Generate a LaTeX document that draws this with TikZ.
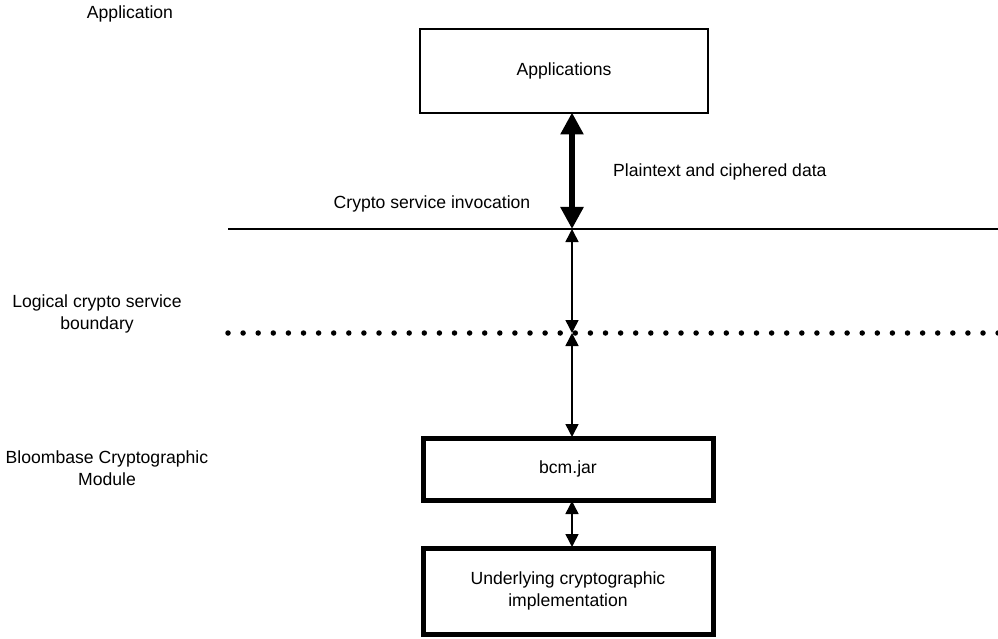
\documentclass[tikz,border=0pt]{standalone}
\usepackage{fontspec}
\setmainfont{Liberation Sans}
\usetikzlibrary{arrows.meta}
\begin{document}
\begin{tikzpicture}[x=1pt,y=-1pt,
  lbl/.style={font=\fontsize{17.6}{22}\selectfont, inner sep=0pt, align=center},
  thinbox/.style={draw, line width=1.5pt, inner sep=0pt},
  thickbox/.style={draw, line width=5pt, inner sep=0pt},
  bigarrow/.style={line width=6.5pt, {Triangle[width=22pt,length=22pt]}-{Triangle[width=22pt,length=22pt]}},
  smallarrow/.style={line width=1.5pt, {Triangle[width=13pt,length=13pt]}-{Triangle[width=13pt,length=13pt]}},
  solidline/.style={line width=1.5pt},
  dotline/.style={line width=5.5pt, line cap=round, dash pattern=on 0pt off 15.1pt}
]
\useasboundingbox (0,0) rectangle (998,639);

% boxes
\node[thinbox, minimum width=288pt, minimum height=84pt] (app) at (564,71) {};
\node[lbl] (apptxt) at (app.center) {Applications};
\node[thickbox, minimum width=290pt, minimum height=62pt] (bcm) at (568,469) {};
\node[lbl] (bcmtxt) at (bcm.center) {bcm.jar};
\node[thickbox, minimum width=290pt, minimum height=86pt] (impl) at (568,591) {};
\node[lbl] (impltxt) at (impl.center) {Underlying cryptographic\\[0pt]implementation};

% horizontal lines
\coordinate (L1a) at (228,229);
\coordinate (L1b) at (998,229);
\draw[solidline] (L1a) -- (L1b);
\coordinate (L2a) at (228,333);
\coordinate (L2b) at (1000,333);
\draw[dotline] (L2a) -- (L2b);

% arrow anchor points
\coordinate (p0) at (572,112.5);
\coordinate (p1) at (572,229);
\coordinate (p2) at (572,333);
\coordinate (p3) at (572,437);
\coordinate (p4) at (572,501);
\coordinate (p5) at (572,547);

\draw[bigarrow] (p0) -- (p1);
\draw[smallarrow] (p1) -- (p2);
\draw[smallarrow] (p2) -- (p3);
\draw[smallarrow] (p4) -- (p5);

% labels
\node[lbl] (tApp) at (130,14) {Application};
\node[lbl] (tInv) at (432,204) {Crypto service invocation};
\node[lbl, anchor=west] (tData) at (613,172) {Plaintext and ciphered data};
\node[lbl] (tBound) at (97,314) {Logical crypto service\\[0pt]boundary};
\node[lbl] (tMod) at (107,468) {Bloombase Cryptographic\\[0pt]Module};
\end{tikzpicture}
\end{document}
